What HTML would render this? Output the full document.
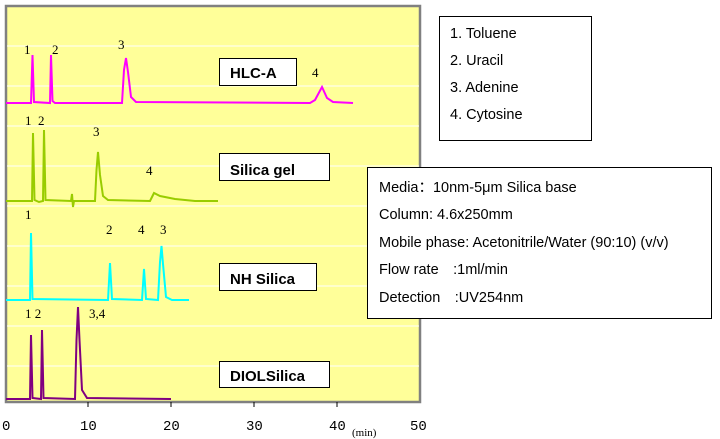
<!DOCTYPE html>
<html><head><style>
body{margin:0;background:#fff;}
svg{display:block;}
text{font-family:"Liberation Sans",sans-serif;}
.s text, text.s{font-family:"Liberation Serif",serif;font-size:13px;}
.b text{font-weight:bold;font-size:15px;}
.n text{font-size:14.5px;}
.m text{font-family:"Liberation Mono",monospace;font-size:14px;}
</style></head><body>
<svg width="720" height="439" viewBox="0 0 720 439">
<rect x="6" y="6" width="414" height="396" fill="#FFFF99" stroke="#808080" stroke-width="2.5"/>
<g stroke="#fff" stroke-width="1">
<line x1="7" x2="419" y1="46" y2="46"/><line x1="7" x2="419" y1="86" y2="86"/>
<line x1="7" x2="419" y1="126" y2="126"/><line x1="7" x2="419" y1="166" y2="166"/>
<line x1="7" x2="419" y1="206" y2="206"/><line x1="7" x2="419" y1="246" y2="246"/>
<line x1="7" x2="419" y1="286" y2="286"/><line x1="7" x2="419" y1="326" y2="326"/>
<line x1="7" x2="419" y1="366" y2="366"/>
</g>
<g stroke="#000" stroke-width="1"><line x1="88" x2="88" y1="402" y2="407"/><line x1="171" x2="171" y1="402" y2="407"/><line x1="254" x2="254" y1="402" y2="407"/><line x1="337" x2="337" y1="402" y2="407"/></g>
<g class="m" fill="#000">
<text x="2" y="430">0</text><text x="80" y="430">10</text><text x="163" y="430">20</text><text x="246" y="430">30</text><text x="329" y="430">40</text><text x="410" y="430">50</text>
</g>
<text x="352" y="436" class="s" style="font-size:11px">(min)</text>
<path fill="none" stroke="#FF00FF" stroke-width="2" d="M6 103 L31 103 L32.5 55 L34 102 L50 103 L51 55 L52.5 101 L55 103 L122 103 L124 70 L126 58 L128 72 L131 97 L136 102 L310 103 L315 100 L322 87 L327 98 L333 102 L353 103"/>
<path fill="none" stroke="#99CC00" stroke-width="2" d="M6 201 L32 201 L33 133 L34.5 200 L39 202 L43 201 L44 130 L45.5 200 L71 201 L72 194 L73 207 L74 201 L95 201 L96.5 170 L98 152 L100 175 L103 196 L108 200 L150 201 L152 197 L154 193 L160 196 L175 199 L195 201 L218 201"/>
<path fill="none" stroke="#00FFFF" stroke-width="2" d="M6 300 L30 300 L31 233 L32.5 299 L108 300 L110 263 L112 299 L142 300 L144 269 L146 299 L158 300 L160 262 L161.5 246 L163 264 L166 297 L172 300 L189 300"/>
<path fill="none" stroke="#800080" stroke-width="2" d="M6 399 L30 399 L31 335 L32.5 398 L41 399 L42 330 L43.5 398 L75 399 L76.5 340 L78 307 L79.5 340 L82 390 L87 398 L171 399"/>
<g class="s" fill="#000">
<text x="24" y="54">1</text><text x="52" y="54">2</text><text x="118" y="49">3</text><text x="312" y="77">4</text>
<text x="25" y="125">1</text><text x="38" y="125">2</text><text x="93" y="136">3</text><text x="146" y="175">4</text>
<text x="25" y="219">1</text><text x="106" y="234">2</text><text x="138" y="234">4</text><text x="160" y="234">3</text>
<text x="25" y="318">1 2</text><text x="89" y="318">3,4</text>
</g>
<g fill="#fff" stroke="#000" stroke-width="1">
<rect x="219.5" y="58.5" width="77" height="27"/><rect x="219.5" y="153.5" width="110" height="27"/>
<rect x="219.5" y="263.5" width="97" height="27"/><rect x="219.5" y="361.5" width="110" height="26"/>
<rect x="439.5" y="16.5" width="152" height="124"/><rect x="367.5" y="167.5" width="344" height="151"/>
</g>
<g class="b" fill="#000">
<text x="230" y="78">HLC-A</text><text x="230" y="175">Silica gel</text><text x="230" y="284">NH Silica</text><text x="230" y="381">DIOLSilica</text>
</g>
<g class="n" fill="#000">
<text x="450" y="38">1. Toluene</text><text x="450" y="65">2. Uracil</text><text x="450" y="92">3. Adenine</text><text x="450" y="119">4. Cytosine</text>
<text x="379" y="192">Media：10nm-5μm Silica base</text>
<text x="379" y="219">Column: 4.6x250mm</text>
<text x="379" y="247">Mobile phase: Acetonitrile/Water (90:10) (v/v)</text>
<text x="379" y="274">Flow rate　:1ml/min</text>
<text x="379" y="302">Detection　:UV254nm</text>
</g>
</svg>
</body></html>
